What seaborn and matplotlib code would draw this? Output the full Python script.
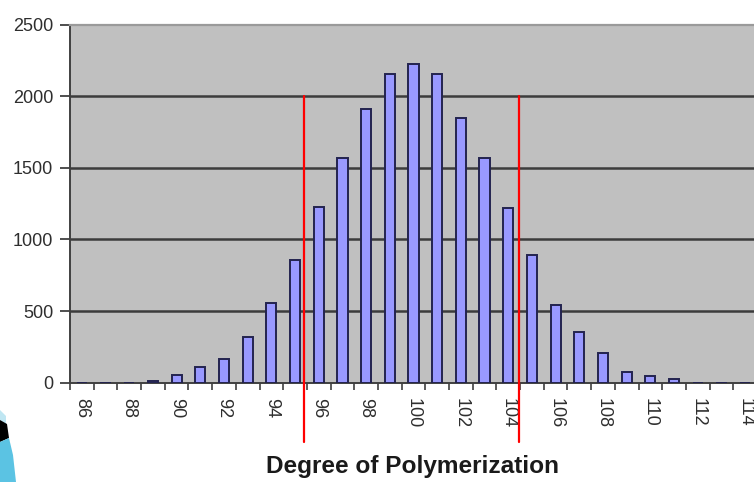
import matplotlib
matplotlib.use("Agg")
import matplotlib.pyplot as plt
import seaborn as sns
import pandas as pd
from matplotlib.patches import Polygon

# ---- data ----
degree = list(range(86, 115))
counts = [0, 0, 0, 10, 50, 105, 165, 320, 555, 860, 1225, 1570, 1915, 2155,
          2225, 2155, 1850, 1570, 1220, 895, 545, 355, 205, 75, 48, 22, 0, 0, 0]
y_ticks = [0, 500, 1000, 1500, 2000, 2500]
x_tick_labels = [str(d) for d in degree[::2]]
red_line_positions = [95.38, 104.46]   # in degree units
red_line_top = 2000
xlabel = "Degree of Polymerization"

df = pd.DataFrame({"degree": [str(d) for d in degree], "count": counts})

sns.set_style("white")
plt.rcParams["font.family"] = ["Liberation Sans", "DejaVu Sans"]

W, H = 754, 482
fig = plt.figure(figsize=(W / 100, H / 100), dpi=100)
fig.patch.set_facecolor("white")
left_px, right_px, top_px, bot_px = 70, 757, 25, 382.5
ax = fig.add_axes([left_px / W, (H - bot_px) / H, (right_px - left_px) / W, (bot_px - top_px) / H])
ax.set_facecolor("#C0C0C0")

sns.barplot(data=df, x="degree", y="count", color="#9999FF", saturation=1,
            edgecolor="#23234F", linewidth=1.4, width=0.43, ax=ax, zorder=3)

ax.set_xlim(-0.5, len(degree) - 0.5)
ax.set_ylim(0, 2500)

# grid lines
for yv in y_ticks[1:-1]:
    ax.axhline(yv, color="#3c3c3c", lw=1.8, zorder=1)

# spines
for s in ["left", "bottom"]:
    ax.spines[s].set_color("#404040")
    ax.spines[s].set_linewidth(1.4)
ax.spines["top"].set_color("#9a9a9a")
ax.spines["top"].set_linewidth(1.6)
ax.spines["right"].set_visible(False)

# y ticks
ax.set_yticks(y_ticks)
ax.set_yticklabels([str(v) for v in y_ticks])
ax.tick_params(axis="y", length=7, width=1.3, color="#404040", labelsize=13,
               labelcolor="#2e2e2e", pad=5, left=True)

# x ticks: labels at centers, marks at boundaries
ax.set_xticks(list(range(0, len(degree), 2)))
ax.set_xticklabels(x_tick_labels, rotation=-90)
ax.set_xticks([i - 0.5 for i in range(len(degree) + 1)], minor=True)
ax.tick_params(axis="x", which="major", length=0, labelsize=13, labelcolor="#2e2e2e", pad=11)
ax.tick_params(axis="x", which="minor", length=5, width=1.2, color="#404040", bottom=True)

ax.set_ylabel("")
ax.set_xlabel(xlabel, fontsize=17.6, fontweight="bold", color="#1a1a1a")
ax.xaxis.set_label_coords((413 - left_px) / (right_px - left_px), (bot_px - 455) / (bot_px - top_px))
ax.xaxis.label.set_va("top")

# red marker lines
for pos in red_line_positions:
    xi = pos - degree[0]
    ax.plot([xi, xi], [red_line_top, -415], color="#FF0000", lw=1.6, clip_on=False, zorder=5)

# decorative slide corner at bottom-left
def px(pts):
    return [(x / W, (H - y) / H) for x, y in pts]
fig.patches.append(Polygon(px([(0, 410), (6, 416), (6, 424), (0, 420)]), closed=True,
                           transform=fig.transFigure, facecolor="#BFE6F2", edgecolor="none"))
fig.patches.append(Polygon(px([(0, 420), (7, 424), (9, 438), (0, 442)]), closed=True,
                           transform=fig.transFigure, facecolor="#000000", edgecolor="none"))
fig.patches.append(Polygon(px([(0, 442), (9, 438), (13, 455), (16, 482), (0, 482)]), closed=True,
                           transform=fig.transFigure, facecolor="#5BC3E3", edgecolor="none"))

fig.savefig("out.png", dpi=100, facecolor="white")
